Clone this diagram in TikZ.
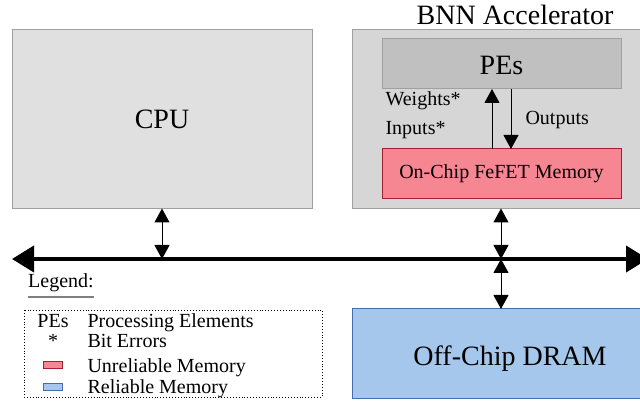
\documentclass[tikz,border=0pt]{standalone}
\usepackage{fontspec}
\setmainfont{Liberation Serif}
\usepackage{tikz}
\usetikzlibrary{positioning,calc,arrows.meta}
\definecolor{CpuGray}{RGB}{224,224,224}
\definecolor{AccGray}{RGB}{214,214,214}
\definecolor{PeGray}{RGB}{192,192,192}
\definecolor{EdgeGray}{RGB}{160,160,160}
\definecolor{FeFETPink}{RGB}{245,134,146}
\definecolor{FeFETEdge}{RGB}{165,30,50}
\definecolor{DramBlue}{RGB}{166,199,236}
\definecolor{DramEdge}{RGB}{70,110,170}

\begin{document}
\begin{tikzpicture}[x=1pt,y=-1pt,
  big/.style={font=\fontsize{28}{32}\selectfont},
  small/.style={font=\fontsize{20}{23}\selectfont},
  unit/.style={draw=EdgeGray,line width=1pt,inner sep=0pt,outer sep=0pt,big},
  dbl/.style={line width=1pt,{Triangle[length=14pt,width=15pt]}-{Triangle[length=14pt,width=15pt]}},
  flow/.style={line width=1pt,-{Triangle[length=14pt,width=15pt]}},
  swatch/.style={minimum width=19pt,minimum height=7pt,inner sep=0pt,line width=0.8pt}]
\useasboundingbox (0,0) rectangle (640,403);
% host side
\node[unit,fill=CpuGray,minimum width=300pt,minimum height=179pt] (cpu) at (162,119) {CPU};
% accelerator
\node[unit,fill=AccGray,minimum width=298pt,minimum height=179pt] (acc) at (501,119) {};
\node[big,anchor=base] (acclabel) at (515,25) {BNN Accelerator};
\node[unit,fill=PeGray,minimum width=239pt,minimum height=50pt] (pes) at (501.5,64) {};
\node[big,anchor=base] (peslabel) at (pes.center |- 0,75) {PEs};
\node[unit,draw=FeFETEdge,fill=FeFETPink,small,minimum width=239pt,minimum height=50pt] (fefet) at (501.5,174) {On-Chip FeFET Memory};
\draw[flow] ([xshift=-9.5pt]fefet.north) -- ([xshift=-9.5pt]pes.south);
\draw[flow] ([xshift=9.5pt]pes.south) -- ([xshift=9.5pt]fefet.north);
\node[small,anchor=base west] (weights) at (382,106) {Weights*};
\node[small,anchor=base west] (inputs) at (382,135) {Inputs*};
\node[small,anchor=base west] (outputs) at (522,125) {Outputs};
% memory
\node[unit,draw=DramEdge,fill=DramBlue,minimum width=316pt,minimum height=89pt] (dram) at (510,353.5) {};
\node[big,anchor=base] (dramlabel) at (510,365) {Off-Chip DRAM};
% bus
\coordinate (busL) at (12,259);
\coordinate (busR) at (648,259);
\draw[line width=4pt,{Triangle[length=22pt,width=26pt]}-{Triangle[length=22pt,width=26pt]}] (busL) -- (busR);
\draw[dbl] (cpu.south) -- (cpu.south |- busL);
\draw[dbl] (acc.south) -- (acc.south |- busL);
\draw[dbl] (acc.south |- busL) -- (acc.south |- dram.north);
% legend
\node[small,anchor=base west,inner sep=0pt] (legtitle) at (28,288) {Legend:};
\draw[EdgeGray!80!black,line width=2pt] ([yshift=-9pt]legtitle.base west) -- ([yshift=-9pt]legtitle.base east);
\draw[dotted,line width=0.9pt] (24,310) rectangle (322,397);
\node[small,anchor=base] (legpe) at (53,327) {PEs};
\node[small,anchor=base west] (legpetext) at (84,327) {Processing Elements};
\node[small,anchor=base] (legstar) at (53,348) {*};
\node[small,anchor=base west] (legstartext) at (84,348) {Bit Errors};
\node[swatch,draw=FeFETEdge,fill=FeFETPink] (legpink) at (53,365) {};
\node[small,anchor=base west] (legpinktext) at (84,373) {Unreliable Memory};
\node[swatch,draw=DramEdge,fill=DramBlue] (legblue) at (53,387) {};
\node[small,anchor=base west] (legbluetext) at (84,393) {Reliable Memory};
\end{tikzpicture}
\end{document}
